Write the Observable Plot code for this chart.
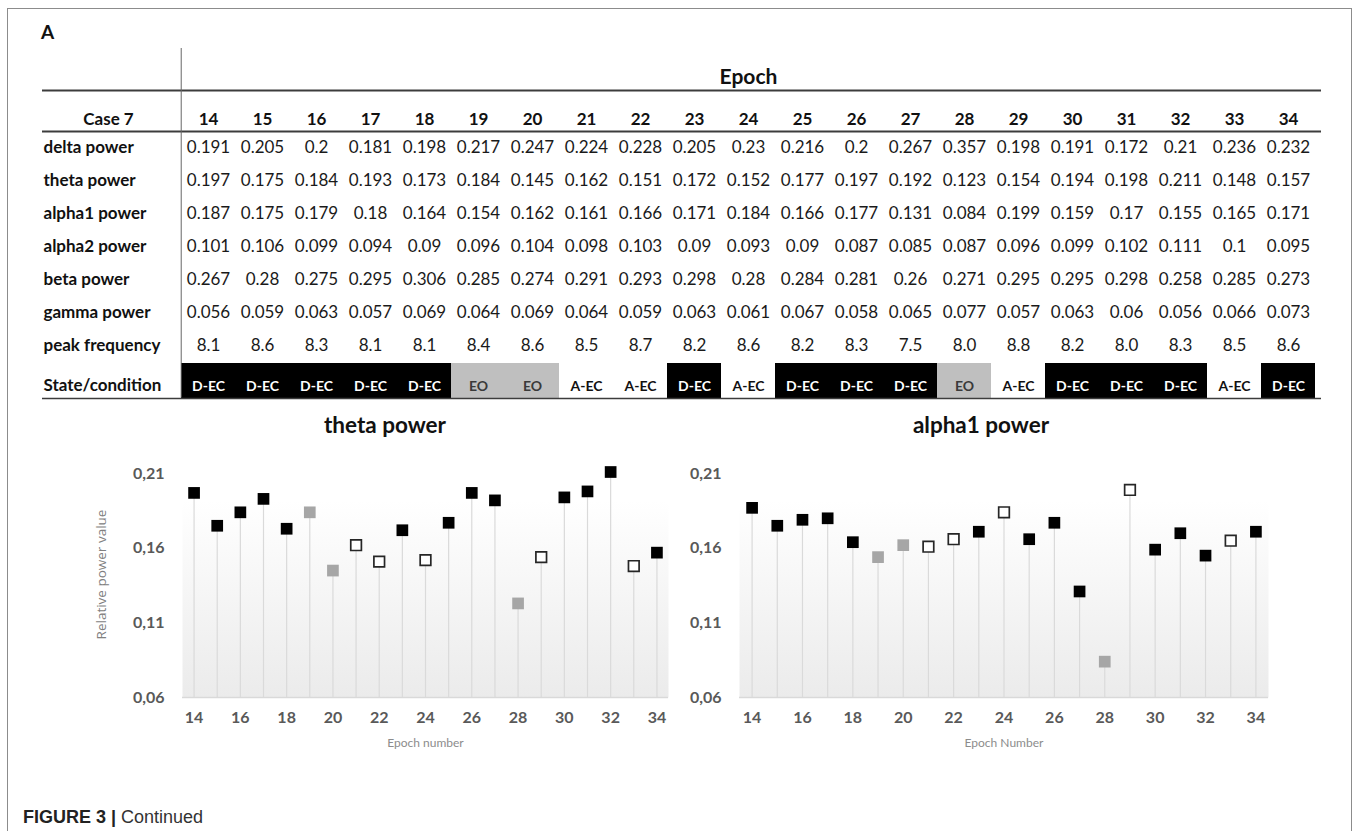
<!DOCTYPE html>
<html><head><meta charset="utf-8">
<script src="https://cdn.jsdelivr.net/npm/d3@7"></script>
<script src="https://cdn.jsdelivr.net/npm/@observablehq/plot@0.6"></script>
<style>
html,body{margin:0;padding:0;background:#fff;}
body{width:1357px;height:831px;position:relative;overflow:hidden;font-family:Lato,"Open Sans",sans-serif;}
.abs{position:absolute;}
#border{left:7px;top:8px;width:1345px;height:900px;border:1.5px solid #8c8c8c;box-sizing:border-box;z-index:10;pointer-events:none;}
#panel{left:41px;top:20px;font-weight:bold;font-size:19px;color:#111;line-height:24px;}
.ctitle{font-weight:bold;font-size:22.5px;color:#111;transform:translate(-50%,-50%);white-space:nowrap;}
#caption{left:23px;top:806px;font-family:"Liberation Sans",Arial,sans-serif;font-size:18px;line-height:22px;color:#333;white-space:nowrap;}
#caption b{color:#222;}
svg{background:transparent;}
</style></head><body>
<svg width="0" height="0" style="position:absolute"><defs><linearGradient id="plotbg" x1="0" y1="0" x2="0" y2="1"><stop offset="0" stop-color="#ffffff"/><stop offset="1" stop-color="#ebebeb"/></linearGradient></defs></svg>
<div id="border" class="abs"></div>
<div id="panel" class="abs">A</div>
<div id="table" class="abs" style="left:0;top:0;width:1357px"></div>
<div class="abs ctitle" style="left:385px;top:424px">theta power</div>
<div class="abs ctitle" style="left:981px;top:424px">alpha1 power</div>
<div id="left" class="abs" style="left:0;top:443px;width:680px"></div>
<div id="right" class="abs" style="left:680px;top:443px;width:677px"></div>
<div id="caption" class="abs"><b>FIGURE 3 |</b> Continued</div>
<script>
// ---- data ----
const epochs = [14,15,16,17,18,19,20,21,22,23,24,25,26,27,28,29,30,31,32,33,34];
const headerLabel = "Case 7";
const stateLabel = "State/condition";
const rowLabels = ["delta power","theta power","alpha1 power","alpha2 power","beta power","gamma power","peak frequency"];
const delta  = [0.191,0.205,0.2,0.181,0.198,0.217,0.247,0.224,0.228,0.205,0.23,0.216,0.2,0.267,0.357,0.198,0.191,0.172,0.21,0.236,0.232];
const theta  = [0.197,0.175,0.184,0.193,0.173,0.184,0.145,0.162,0.151,0.172,0.152,0.177,0.197,0.192,0.123,0.154,0.194,0.198,0.211,0.148,0.157];
const alpha1 = [0.187,0.175,0.179,0.18,0.164,0.154,0.162,0.161,0.166,0.171,0.184,0.166,0.177,0.131,0.084,0.199,0.159,0.17,0.155,0.165,0.171];
const alpha2 = [0.101,0.106,0.099,0.094,0.09,0.096,0.104,0.098,0.103,0.09,0.093,0.09,0.087,0.085,0.087,0.096,0.099,0.102,0.111,0.1,0.095];
const beta   = [0.267,0.28,0.275,0.295,0.306,0.285,0.274,0.291,0.293,0.298,0.28,0.284,0.281,0.26,0.271,0.295,0.295,0.298,0.258,0.285,0.273];
const gamma  = [0.056,0.059,0.063,0.057,0.069,0.064,0.069,0.064,0.059,0.063,0.061,0.067,0.058,0.065,0.077,0.057,0.063,0.06,0.056,0.066,0.073];
const peak   = ["8.1","8.6","8.3","8.1","8.1","8.4","8.6","8.5","8.7","8.2","8.6","8.2","8.3","7.5","8.0","8.8","8.2","8.0","8.3","8.5","8.6"];
const states = ["D-EC","D-EC","D-EC","D-EC","D-EC","EO","EO","A-EC","A-EC","D-EC","A-EC","D-EC","D-EC","D-EC","EO","A-EC","D-EC","D-EC","D-EC","A-EC","D-EC"];
const xTicks = [14,16,18,20,22,24,26,28,30,32,34];
const yTicks = [0.06,0.11,0.16,0.21];

// ---- styles ----
const cellFill = {"D-EC":"#000000","EO":"#bfbfbf","A-EC":"#ffffff"};
const cellText = {"D-EC":"#ffffff","EO":"#3a3a3a","A-EC":"#111111"};
const dotFill  = {"D-EC":"#000000","EO":"#a6a6a6","A-EC":"#ffffff"};
const FONT = "Lato, 'Open Sans', sans-serif";

// ---- table ----
const rowValues = [delta, theta, alpha1, alpha2, beta, gamma, peak];
const cells = rowLabels.flatMap((name, r) => rowValues[r].map((v, i) => ({row: name, epoch: epochs[i], text: String(v)})));
const stateCells = epochs.map((e, i) => ({row: stateLabel, epoch: e, state: states[i]}));
const yDomain = [headerLabel, ...rowLabels, stateLabel];

const TW = 1357, TH = 400, ML = 175, MR = 36, MT = 97.5, MB = 5.5;
const bw = (TW - ML - MR) / epochs.length;
const bh = (TH - MT - MB) / yDomain.length;
const lineColor = "#3c3c3c";
const ext = 3; // state row is a little taller

const table = Plot.plot({
  width: TW, height: TH,
  marginLeft: ML, marginRight: MR, marginTop: MT, marginBottom: MB,
  style: {fontFamily: FONT, background: "transparent", overflow: "visible"},
  x: {type: "band", domain: epochs, padding: 0, axis: null},
  y: {type: "band", domain: yDomain, padding: 0, axis: null},
  color: {type: "identity"},
  marks: [
    Plot.cell(stateCells, {x: "epoch", y: "row", fill: d => cellFill[d.state], insetTop: 1, insetBottom: -ext}),
    Plot.text(stateCells, {x: "epoch", y: "row", text: "state", fill: d => cellText[d.state], fontSize: 14, fontWeight: "bold", dy: 8}),
    Plot.text(cells, {x: "epoch", y: "row", text: "text", fontSize: 17, fill: "#1a1a1a"}),
    Plot.text(epochs, {x: d => d, y: () => headerLabel, text: d => String(d), fontSize: 17, fontWeight: "bold", fill: "#111", dy: 5}),
    Plot.text(rowLabels, {y: d => d, text: d => d, frameAnchor: "left", textAnchor: "start", dx: -(ML - 43), fontSize: 17, fontWeight: "bold", fill: "#111"}),
    Plot.text([stateLabel], {y: d => d, text: d => d, frameAnchor: "left", textAnchor: "start", dx: -(ML - 43), dy: 7, fontSize: 17, fontWeight: "bold", fill: "#111"}),
    Plot.text([headerLabel], {y: d => d, text: d => d, frameAnchor: "left", textAnchor: "middle", dx: -(ML - 108), fontSize: 17, fontWeight: "bold", fill: "#111", dy: 5}),
    Plot.text(["Epoch"], {text: d => d, frameAnchor: "top", lineAnchor: "middle", dy: -21, fontSize: 21, fontWeight: "bold", fill: "#111"}),
    Plot.ruleY([headerLabel], {dy: -(bh / 2) - 8, insetLeft: -(ML - 42), stroke: lineColor, strokeWidth: 1.8}),
    Plot.ruleY(["delta power"], {dy: -(bh / 2), insetLeft: -(ML - 42), stroke: lineColor, strokeWidth: 2}),
    Plot.ruleY([stateLabel], {dy: bh / 2 + ext, insetLeft: -(ML - 42), stroke: lineColor, strokeWidth: 1.6}),
    Plot.ruleX([epochs[0]], {dx: -bw / 2, insetTop: -(MT - 48), insetBottom: -ext, stroke: "#666", strokeWidth: 1})
  ]
});
document.getElementById("table").appendChild(table);

// ---- charts ----
function chart(values, opts) {
  const data = epochs.map((e, i) => ({epoch: e, value: values[i], state: states[i]}));
  return Plot.plot({
    width: opts.width, height: 314,
    marginTop: 30, marginBottom: 60, marginLeft: opts.marginLeft, marginRight: opts.marginRight,
    style: {fontFamily: FONT, background: "transparent", overflow: "visible"},
    x: {domain: [13.5, 34.5], axis: null},
    y: {domain: [0.06, 0.21], axis: null},
    color: {type: "identity"},
    marks: [
      Plot.frame({fill: "url(#plotbg)", stroke: "none", insetTop: 27}),
      Plot.ruleX(data, {x: "epoch", y1: 0.06, y2: "value", stroke: "#dadada", strokeWidth: 1.2}),
      Plot.ruleY([0.06], {stroke: "#d9d9d9", strokeWidth: 1.5}),
      Plot.dot(data.filter(d => d.state !== "A-EC"), {x: "epoch", y: "value", symbol: "square", r: 6.6, fill: d => dotFill[d.state], stroke: "none"}),
      Plot.dot(data.filter(d => d.state === "A-EC"), {x: "epoch", y: "value", symbol: "square", r: 6, fill: d => dotFill[d.state], stroke: "#262626", strokeWidth: 1.7}),
      Plot.axisX({ticks: xTicks, tickFormat: d => String(d), tickSize: 0, tickPadding: 14, fontSize: 16, fontWeight: "bold", fill: "#595959", label: null}),
      Plot.axisY({ticks: yTicks, tickFormat: d => d.toFixed(2).replace(".", ","), tickSize: 0, tickPadding: 18, fontSize: 16, fontWeight: "bold", fill: "#595959", label: null}),
      Plot.text([opts.xTitle], {text: d => d, frameAnchor: "bottom", lineAnchor: "middle", dy: 46, fontSize: 12, fill: "#8c8c8c"}),
      opts.yTitle ? Plot.text([opts.yTitle], {text: d => d, frameAnchor: "left", textAnchor: "middle", lineAnchor: "middle", dx: -81, dy: -11, rotate: -90, fontSize: 13.5, fontFamily: "'Open Sans', sans-serif", fill: "#808080"}) : null
    ]
  });
}
document.getElementById("left").appendChild(chart(theta, {width: 680, marginLeft: 182, marginRight: 12, xTitle: "Epoch number", yTitle: "Relative power value"}));
document.getElementById("right").appendChild(chart(alpha1, {width: 677, marginLeft: 59, marginRight: 89, xTitle: "Epoch Number"}));
</script>
</body></html>
